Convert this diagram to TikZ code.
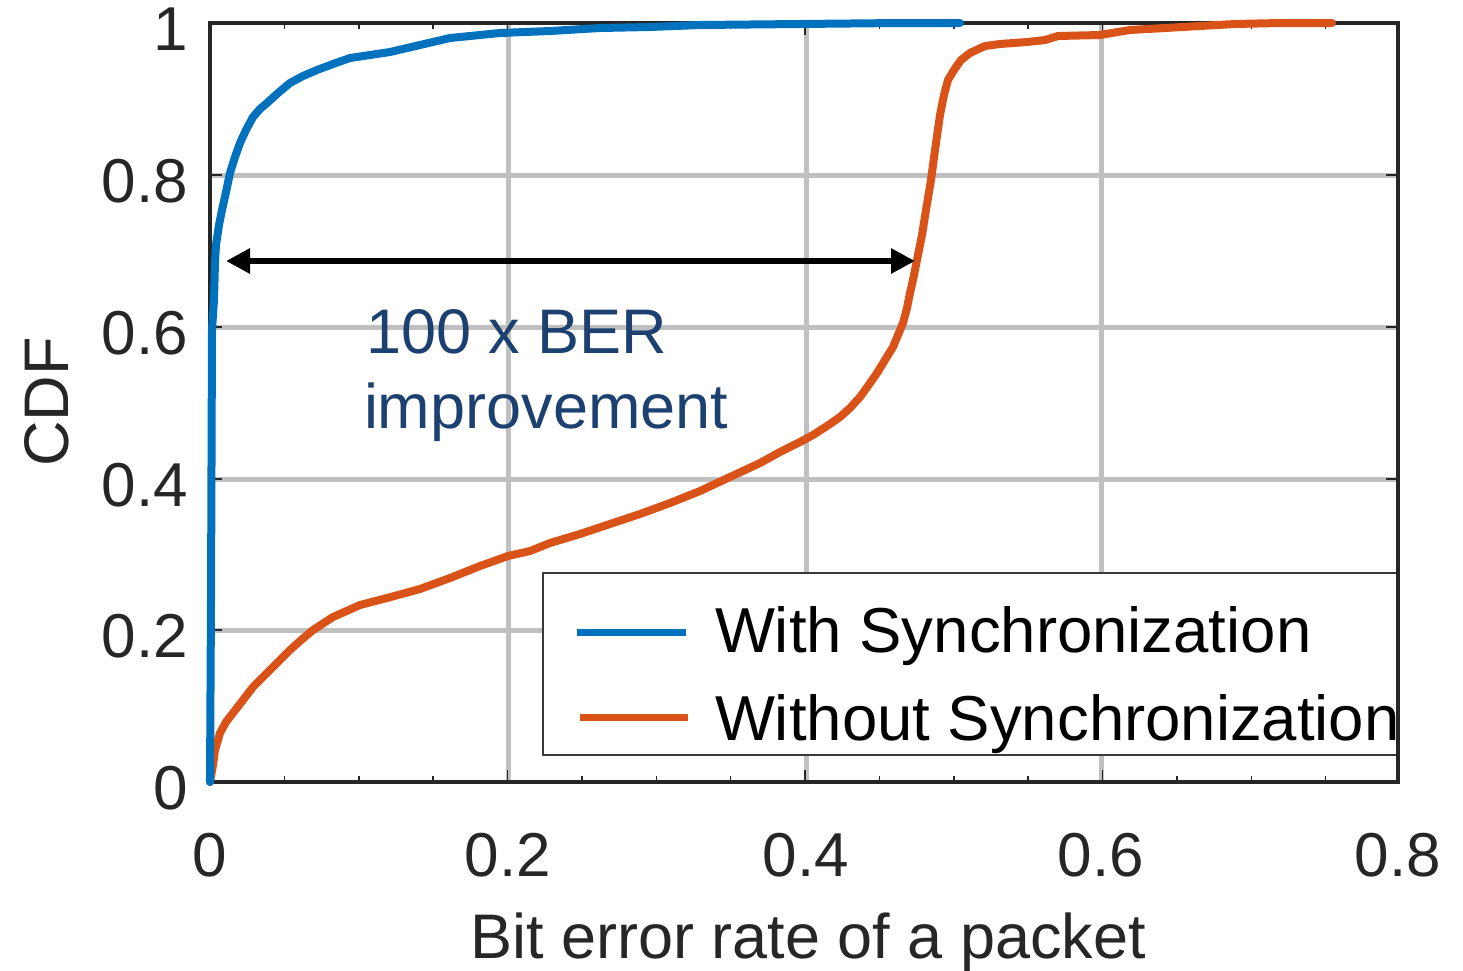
\documentclass[tikz,border=0pt]{standalone}
\usepackage{fontspec}
\setmainfont{Liberation Sans}
\usetikzlibrary{arrows.meta}
\definecolor{axisgray}{HTML}{262626}
\definecolor{gridgray}{HTML}{C0C0C0}
\definecolor{cblue}{HTML}{0072BD}
\definecolor{corange}{HTML}{D95319}
\definecolor{notecol}{RGB}{28,64,112}
\definecolor{legframe}{HTML}{3A3A3A}

\begin{document}
\begin{tikzpicture}[x=1pt,y=-1pt,
  every node/.style={inner sep=0pt, outer sep=0pt},
  gridline/.style={gridgray, line width=5pt},
  frame/.style={axisgray, line width=4pt},
  tickmark/.style={axisgray, line width=1.5pt},
  ticklabel/.style={text=axisgray, font=\fontsize{62}{70}\selectfont},
  axlabel/.style={text=axisgray, font=\fontsize{63}{70}\selectfont},
  curve/.style={line width=8pt, line join=round, line cap=round},
  legtext/.style={text=black, font=\fontsize{63.5}{70}\selectfont, anchor=base west},
  notetext/.style={text=notecol, font=\fontsize{63}{70}\selectfont, anchor=base west}
]
\useasboundingbox (0,0) rectangle (1463,970);
\fill[white] (0,0) rectangle (1463,970);

% grid
\foreach \gx in {508,806,1101} \draw[gridline] (\gx,23) -- (\gx,782);
\foreach \gy in {175,327,479,630} \draw[gridline] (210,\gy) -- (1398,\gy);

% axes frame
\draw[frame] (210,23) rectangle (1398,782);

% x ticks (minor every 0.05, major every 0.2)
\foreach \i in {1,...,15} {
  \pgfmathsetmacro{\tx}{210+\i*74.375}
  \pgfmathsetmacro{\tl}{mod(\i,4)==0 ? 12 : 6}
  \draw[tickmark] (\tx,782) -- ++(0,-\tl);
  \draw[tickmark] (\tx,23) -- ++(0,\tl);
}
% y ticks
\foreach \ty in {175,327,479,630} {
  \draw[tickmark] (210,\ty) -- ++(12,0);
  \draw[tickmark] (1398,\ty) -- ++(-12,0);
}

% tick labels
\foreach \ty/\lab in {23/1,175/0.8,327/0.6,479/0.4,630/0.2,782/0}
  \node[ticklabel, anchor=base east] (yl\lab) at (188,\ty+27) {\lab};
\foreach \tx/\lab in {210/0,508/0.2,806/0.4,1101/0.6,1398/0.8}
  \node[ticklabel, anchor=base] (xl\lab) at (\tx,876) {\lab};

% axis labels
\node[axlabel, anchor=base] (xlabel) at (808,958) {Bit error rate of a packet};
\node[axlabel, anchor=base, rotate=90] (ylabel) at (68,402) {CDF};

% CDF without synchronization
\draw[curve, corange] (210,782) -- (213,765) -- (215,750) -- (220,733) -- (226,722)
  -- (233,713) -- (243,700) -- (253,687) -- (263,677) -- (273,667) -- (290,650)
  -- (300,641) -- (313,630) -- (333,617) -- (360,605) -- (387,598) -- (420,589)
  -- (450,578) -- (480,566) -- (508,556) -- (530,551) -- (550,543) -- (580,534)
  -- (610,524) -- (640,514) -- (670,503) -- (700,491) -- (730,477) -- (760,463)
  -- (780,452) -- (800,442) -- (813,435) -- (827,426) -- (840,417) -- (850,408)
  -- (860,397) -- (868,386) -- (877,373) -- (885,360) -- (893,347) -- (898,335)
  -- (903,323) -- (907,308) -- (910,293) -- (913,280) -- (915,270) -- (918,255)
  -- (922,235) -- (926,210) -- (931,180) -- (935,150) -- (940,115) -- (944,95)
  -- (948,80) -- (954,70) -- (961,60) -- (970,53) -- (985,46) -- (1000,44)
  -- (1027,42) -- (1045,40) -- (1058,36) -- (1100,35) -- (1130,30) -- (1165,28)
  -- (1200,26) -- (1235,24) -- (1280,23) -- (1332,23);

% CDF with synchronization
\draw[curve, cblue] (210,782) -- (211,600) -- (212,330) -- (214,300) -- (215,262)
  -- (216,245) -- (219,225) -- (222,210) -- (226,192) -- (230,173) -- (235,157)
  -- (240,143) -- (246,130) -- (253,117) -- (260,109) -- (267,103) -- (278,93)
  -- (290,83) -- (303,76) -- (317,70) -- (333,64) -- (350,58) -- (370,55)
  -- (390,52) -- (420,45) -- (450,38) -- (480,35) -- (500,33) -- (550,31)
  -- (600,28) -- (650,27) -- (700,25) -- (800,24) -- (900,23) -- (960,23);

% improvement arrow and note
\coordinate (arrL) at (226,261);
\coordinate (arrR) at (915,261);
\draw[black, line width=6pt, {Triangle[length=24pt,width=24pt]}-{Triangle[length=24pt,width=24pt]}] (arrL) -- (arrR);
\node[notetext] (note1) at (366,353) {100 x BER};
\node[notetext] (note2) at (364,428) {improvement};

% legend
\node[draw=legframe, line width=1.5pt, fill=white, anchor=north west,
      minimum width=855pt, minimum height=182pt] (legend) at (543,573) {};
\draw[cblue, line width=7pt] (577,632) -- (686,632);
\draw[corange, line width=7pt] (580,717) -- (688,717);
\node[legtext] (leg1) at (715,652) {With Synchronization};
\node[legtext] (leg2) at (715,740) {Without Synchronization};

% right edge of the axes over the legend
\draw[frame] (1398,560) -- (1398,782);
\end{tikzpicture}
\end{document}
